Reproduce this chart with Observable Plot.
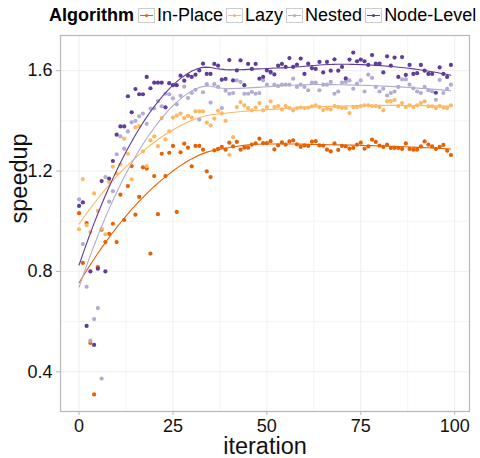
<!DOCTYPE html>
<html>
<head>
<meta charset="utf-8">
<script src="https://cdn.jsdelivr.net/npm/d3@7"></script>
<script src="https://cdn.jsdelivr.net/npm/@observablehq/plot@0.6"></script>
<style>
  body { margin: 0; background: #fff; font-family: "Liberation Sans", Arial, Helvetica, sans-serif; }
  #chart { width: 480px; }
  .legend { display: flex; align-items: center; height: 30px; padding-left: 49px; font-size: 18px; color: #000; white-space: nowrap; }
  .legend .title { font-weight: bold; margin-right: 4px; }
  .legend .key { width: 17px; height: 15px; box-sizing: border-box; border: 1px solid #cccccc; background: #fff; margin-right: 2px; }
  .legend .key svg { display: block; }
  .legend .lab { margin-right: 3px; }
</style>
</head>
<body>
<div id="chart"></div>
<script>
// Speedup per iteration for four algorithm variants
const algorithms = ["In-Place", "Lazy", "Nested", "Node-Level"];
const colors = ["#e66101", "#fdb863", "#b2abd2", "#5e3c99"];
const iteration = Array.from({length: 100}, (_, i) => i);

const inPlace = [
  1.032, 0.834, 0.993, 0.515, 0.310, 0.817, 0.966, 0.917, 0.950, 0.990,
  0.917, 1.106, 1.005, 1.140, 1.220, 1.026, 1.097, 1.215, 1.210, 0.871,
  1.180, 1.028, 1.269, 1.180, 1.273, 1.300, 1.037, 1.275, 1.309, 1.293,
  1.219, 1.300, 1.300, 1.285, 1.199, 1.176, 1.282, 1.288, 1.296, 1.285,
  1.313, 1.298, 1.316, 1.285, 1.293, 1.293, 1.305, 1.310, 1.329, 1.311,
  1.311, 1.319, 1.286, 1.302, 1.314, 1.305, 1.318, 1.322, 1.306, 1.296,
  1.302, 1.300, 1.317, 1.319, 1.302, 1.301, 1.285, 1.278, 1.310, 1.284,
  1.300, 1.298, 1.289, 1.292, 1.305, 1.313, 1.289, 1.298, 1.325, 1.316,
  1.301, 1.296, 1.305, 1.292, 1.292, 1.292, 1.288, 1.310, 1.288, 1.285,
  1.285, 1.298, 1.318, 1.305, 1.298, 1.288, 1.296, 1.304, 1.281, 1.264
];
const lazy = [
  0.968, 1.168, 0.984, 0.957, 1.111, 1.041, 0.970, 0.948, 1.156, 1.218,
  1.190, 1.226, 1.329, 1.269, 1.167, 1.374, 1.379, 1.278, 1.220, 1.322,
  1.338, 1.299, 1.411, 1.326, 1.358, 1.413, 1.421, 1.429, 1.411, 1.420,
  1.413, 1.438, 1.438, 1.438, 1.393, 1.382, 1.409, 1.440, 1.430, 1.400,
  1.265, 1.335, 1.455, 1.475, 1.462, 1.451, 1.442, 1.453, 1.471, 1.442,
  1.455, 1.478, 1.455, 1.459, 1.446, 1.459, 1.451, 1.442, 1.451, 1.453,
  1.451, 1.453, 1.458, 1.462, 1.455, 1.443, 1.449, 1.446, 1.459, 1.455,
  1.452, 1.451, 1.431, 1.455, 1.455, 1.459, 1.462, 1.462, 1.459, 1.459,
  1.455, 1.442, 1.478, 1.479, 1.483, 1.459, 1.471, 1.455, 1.462, 1.455,
  1.462, 1.471, 1.478, 1.458, 1.458, 1.451, 1.459, 1.453, 1.451, 1.462
];
const nested = [
  1.087, 0.909, 0.739, 0.524, 0.610, 0.654, 0.373, 1.176, 1.078, 1.120,
  1.267, 1.338, 1.289, 1.358, 1.394, 1.400, 1.418, 1.429, 1.388, 1.449,
  1.450, 1.479, 1.458, 1.508, 1.506, 1.490, 1.466, 1.500, 1.536, 1.491,
  1.511, 1.524, 1.405, 1.514, 1.546, 1.473, 1.546, 1.535, 1.451, 1.520,
  1.508, 1.511, 1.561, 1.555, 1.508, 1.508, 1.515, 1.508, 1.511, 1.561,
  1.544, 1.591, 1.544, 1.538, 1.544, 1.544, 1.544, 1.568, 1.535, 1.544,
  1.535, 1.522, 1.552, 1.552, 1.522, 1.544, 1.544, 1.555, 1.508, 1.517,
  1.552, 1.555, 1.561, 1.528, 1.548, 1.561, 1.517, 1.584, 1.571, 1.535,
  1.517, 1.528, 1.501, 1.511, 1.517, 1.535, 1.565, 1.565, 1.544, 1.530,
  1.517, 1.511, 1.535, 1.522, 1.517, 1.484, 1.563, 1.511, 1.528, 1.544
];
const nodeLevel = [
  1.061, 1.075, 0.583, 0.800, 0.507, 0.811, 1.160, 0.800, 1.170, 1.240,
  1.345, 1.378, 1.378, 1.498, 1.434, 1.527, 1.506, 1.506, 1.575, 1.530,
  1.552, 1.552, 1.552, 1.454, 1.550, 1.542, 1.542, 1.580, 1.560, 1.580,
  1.575, 1.584, 1.601, 1.628, 1.587, 1.587, 1.627, 1.620, 1.564, 1.567,
  1.642, 1.561, 1.601, 1.641, 1.542, 1.627, 1.607, 1.627, 1.568, 1.575,
  1.601, 1.595, 1.585, 1.620, 1.627, 1.615, 1.650, 1.615, 1.624, 1.648,
  1.587, 1.628, 1.610, 1.607, 1.635, 1.593, 1.635, 1.600, 1.645, 1.600,
  1.615, 1.569, 1.644, 1.672, 1.637, 1.644, 1.637, 1.623, 1.662, 1.628,
  1.628, 1.593, 1.657, 1.620, 1.652, 1.575, 1.654, 1.583, 1.623, 1.587,
  1.590, 1.623, 1.600, 1.587, 1.587, 1.512, 1.613, 1.587, 1.575, 1.623
];
const series = [inPlace, lazy, nested, nodeLevel];

const xTicks = [0, 25, 50, 75, 100];
const xMinor = [12.5, 37.5, 62.5, 87.5];
const yTicks = [0.4, 0.8, 1.2, 1.6];
const yMinor = [0.6, 1.0, 1.4];

// Local quadratic regression with tricube weights (loess, span 0.75)
function loess(xs, ys, span, grid) {
  const n = xs.length, q = Math.floor(n * span);
  return grid.map(x0 => {
    const dist = xs.map(x => Math.abs(x - x0));
    const h = dist.slice().sort((a, b) => a - b)[q - 1] * 1.0001;
    const s = [0, 0, 0, 0, 0], t = [0, 0, 0];
    for (let i = 0; i < n; i++) {
      const u = dist[i] / h;
      if (u >= 1) continue;
      const w = Math.pow(1 - u * u * u, 3);
      const dx = xs[i] - x0;
      let p = 1;
      for (let k = 0; k < 5; k++) {
        s[k] += w * p;
        if (k < 3) t[k] += w * p * ys[i];
        p *= dx;
      }
    }
    const det3 = (a) => a[0][0] * (a[1][1] * a[2][2] - a[1][2] * a[2][1])
      - a[0][1] * (a[1][0] * a[2][2] - a[1][2] * a[2][0])
      + a[0][2] * (a[1][0] * a[2][1] - a[1][1] * a[2][0]);
    const M = [[s[0], s[1], s[2]], [s[1], s[2], s[3]], [s[2], s[3], s[4]]];
    const M0 = [[t[0], s[1], s[2]], [t[1], s[2], s[3]], [t[2], s[3], s[4]]];
    return det3(M0) / det3(M);
  });
}

const points = [];
const smooth = [];
const xMin = d3.min(iteration), xMax = d3.max(iteration);
const grid = Array.from({length: 80}, (_, k) => xMin + (xMax - xMin) * k / 79);
algorithms.forEach((name, s) => {
  series[s].forEach((v, i) => points.push({algorithm: name, iteration: iteration[i], speedup: v}));
  loess(iteration, series[s], 0.75, grid).forEach((v, k) => smooth.push({algorithm: name, iteration: grid[k], speedup: v}));
});

// Scale domains padded by 5% on each side
const pad = ([a, b]) => [a - (b - a) * 0.05, b + (b - a) * 0.05];
const xDomain = pad(d3.extent(points, d => d.iteration));
const yDomain = pad(d3.extent(points, d => d.speedup));

const chart = document.getElementById("chart");

// Legend above the plot
const legend = document.createElement("div");
legend.className = "legend";
const title = document.createElement("span");
title.className = "title";
title.textContent = "Algorithm";
legend.appendChild(title);
algorithms.forEach((name, s) => {
  const key = document.createElement("div");
  key.className = "key";
  key.innerHTML = `<svg width="15" height="13"><line x1="1" x2="14" y1="6.5" y2="6.5" stroke="${colors[s]}" stroke-width="1"/><circle cx="7.5" cy="6.5" r="1.6" fill="${colors[s]}"/></svg>`;
  legend.appendChild(key);
  const lab = document.createElement("span");
  lab.className = "lab";
  lab.textContent = name;
  legend.appendChild(lab);
});
chart.appendChild(legend);

const plot = Plot.plot({
  width: 480,
  height: 428,
  marginLeft: 60,
  marginRight: 11,
  marginTop: 5,
  marginBottom: 47,
  style: {fontFamily: '"Liberation Sans", Arial, Helvetica, sans-serif', background: "#fff", color: "#111"},
  x: {domain: xDomain},
  y: {domain: yDomain},
  color: {domain: algorithms, range: colors},
  marks: [
    Plot.ruleX(xMinor, {stroke: "#f4f4f4", strokeWidth: 1}),
    Plot.ruleY(yMinor, {stroke: "#f4f4f4", strokeWidth: 1}),
    Plot.ruleX(xTicks, {stroke: "#ebebeb", strokeWidth: 0.8}),
    Plot.ruleY(yTicks, {stroke: "#ebebeb", strokeWidth: 0.8}),
    Plot.dot(points, {x: "iteration", y: "speedup", fill: "algorithm", r: 2.1}),
    Plot.line(smooth, {x: "iteration", y: "speedup", stroke: "algorithm", z: "algorithm", strokeWidth: 1.1}),
    Plot.frame({stroke: "#b8b8b8", strokeWidth: 1.2}),
    Plot.axisX(xTicks, {tickSize: 4, tickPadding: 4, fontSize: 18, color: "#111", stroke: "#b8b8b8", label: null}),
    Plot.axisY(yTicks, {tickSize: 4, tickPadding: 4, fontSize: 18, color: "#111", stroke: "#b8b8b8", label: null, tickFormat: d3.format(".1f")}),
    Plot.text(["iteration"], {frameAnchor: "bottom", dy: 35, lineAnchor: "middle", fontSize: 23.5, fill: "#111"}),
    Plot.text(["speedup"], {frameAnchor: "left", dx: -41, rotate: -90, lineAnchor: "middle", fontSize: 23.5, fill: "#111"})
  ]
});
chart.appendChild(plot);
</script>
</body>
</html>
